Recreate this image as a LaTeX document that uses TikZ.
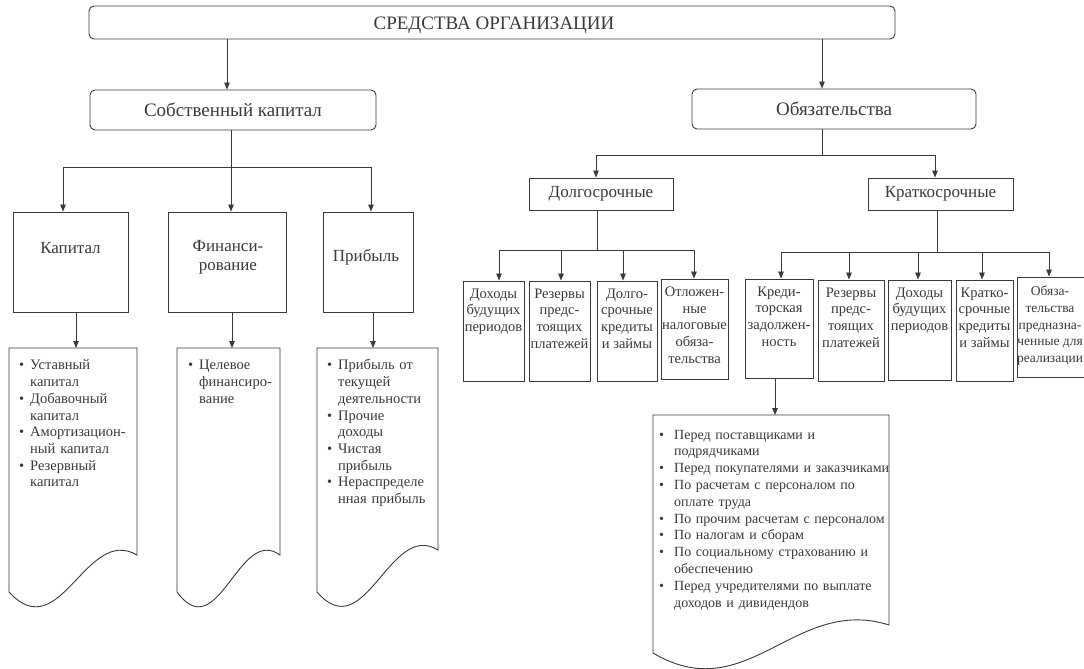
\documentclass[tikz,border=0pt]{standalone}
\usepackage{fontspec}
\setmainfont{Liberation Serif}
\usetikzlibrary{arrows.meta,calc}
\definecolor{ln}{HTML}{3A3A3A}
\newcommand{\fH}{\fontsize{19}{22}\selectfont}
\newcommand{\fM}{\fontsize{17}{19.5}\selectfont}
\newcommand{\fS}{\fontsize{14.5}{16.7}\selectfont}
\newcommand{\fB}{\fontsize{14}{16.8}\selectfont}
\newcommand{\fT}{\fontsize{13.5}{16.7}\selectfont}
\newcommand{\bul}[2]{\par\noindent\hangindent=#1\hangafter=1\makebox[#1][l]{\textbullet}#2}
\newcommand{\docshape}[5]{(#1,#3) -- (#2,#3) -- (#2,#5) .. controls ({#1+0.6*(#2-#1)},{#5-30}) and ({#1+0.4*(#2-#1)},{#4+56}) .. (#1,#4) -- cycle}
\begin{document}
\begin{tikzpicture}[x=1pt,y=-1pt,color=ln,
  box/.style={draw, line width=0.9pt, inner sep=0pt},
  rbox/.style={box, rounded corners=5pt},
  arr/.style={-{Triangle[length=7pt,width=5.5pt]}, line width=0.8pt},
  con/.style={line width=0.8pt},
  small/.style={font=\fS, align=center, inner sep=0pt, anchor=north},
  lst/.style={font=\fS, inner sep=0pt, anchor=north west}]
\fill[white] (0,0) rectangle (1084,669);
\useasboundingbox (0,0) rectangle (1084,669);

% level 0 and 1
\node[rbox, minimum width=806pt, minimum height=33pt] (top) at (492,22.5) {};
\node[font=\fH, inner sep=0pt] at (494,25) {СРЕДСТВА ОРГАНИЗАЦИИ};
\node[rbox, minimum width=286pt, minimum height=40pt, font=\fH] (sk) at (233,110) {Собственный капитал};
\node[rbox, minimum width=284pt, minimum height=40pt, font=\fH] (ob) at (834,109) {Обязательства};

% left level 2
\node[box, minimum width=115pt, minimum height=100pt] (kap) at (70.5,262) {};
\node[box, minimum width=118pt, minimum height=100pt] (fin) at (227,262) {};
\node[box, minimum width=90pt, minimum height=100pt] (pri) at (368,262) {};
\node[font=\fM, inner sep=0pt] at (70.5,248) {Капитал};
\node[font=\fM, inner sep=0pt, align=center] at (228,257) {Финанси-\\рование};
\node[font=\fM, inner sep=0pt] at (366,257) {Прибыль};

% right level 2
\node[box, minimum width=144pt, minimum height=32pt, font=\fM] (dol) at (601,194) {Долгосрочные};
\node[box, minimum width=145pt, minimum height=32pt, font=\fM] (kra) at (940.5,194) {Краткосрочные};

% right level 3
\node[box, minimum width=61pt, minimum height=100pt] (d1) at (493.5,331) {};
\node[box, minimum width=61pt, minimum height=100pt] (d2) at (559.5,331) {};
\node[box, minimum width=60pt, minimum height=100pt] (d3) at (627,331) {};
\node[box, minimum width=67pt, minimum height=100pt] (d4) at (694.5,329) {};
\node[box, minimum width=68pt, minimum height=99pt] (k1) at (779,328.5) {};
\node[box, minimum width=66pt, minimum height=101pt] (k2) at (851,330.5) {};
\node[box, minimum width=63pt, minimum height=100pt] (k3) at (919.5,330) {};
\node[box, minimum width=57pt, minimum height=101pt] (k4) at (984.5,330.5) {};
\node[box, minimum width=73pt, minimum height=100pt] (k5) at (1053.5,327) {};

\node[small] at ($(d1.north)+(0,8)$) {Доходы\\будущих\\периодов};
\node[small] at ($(d2.north)+(0,8)$) {Резервы\\предс-\\тоящих\\платежей};
\node[small] at ($(d3.north)+(0,8)$) {Долго-\\срочные\\кредиты\\и займы};
\node[small] at ($(d4.north)+(0,8)$) {Отложен-\\ные\\налоговые\\обяза-\\тельства};
\node[small] at ($(k1.north)+(0,8)$) {Креди-\\торская\\задолжен-\\ность};
\node[small] at ($(k2.north)+(0,8)$) {Резервы\\предс-\\тоящих\\платежей};
\node[small] at ($(k3.north)+(0,8)$) {Доходы\\будущих\\периодов};
\node[small] at ($(k4.north)+(0,8)$) {Кратко-\\срочные\\кредиты\\и займы};
\node[small, font=\fT] at (1050,286) {Обяза-\\тельства\\предназна-\\ченные для\\реализации};

% list shapes
\coordinate (kl) at (76,348);
\coordinate (fl) at (232,348);
\coordinate (pl) at (373,348);
\coordinate (bl) at (775,415);
\draw[box] \docshape{9}{137}{348}{592}{555};
\draw[box] \docshape{177}{280}{348}{592}{555};
\draw[box] \docshape{317}{438}{348}{592}{550};
\draw[box] \docshape{653}{889}{415}{653}{625};

\node[lst, text width=125pt] at (19,353) {\raggedright\bul{11pt}{Уставный\newline капитал}\bul{11pt}{Добавочный\newline капитал}\bul{11pt}{Амортизацион-\newline ный капитал}\bul{11pt}{Резервный\newline капитал}\par};
\node[lst, text width=110pt] at (188,353) {\raggedright\bul{11pt}{Целевое\newline финансиро-\newline вание}\par};
\node[lst, text width=125pt] at (327,353) {\raggedright\bul{11pt}{Прибыль от\newline текущей\newline деятельности}\bul{11pt}{Прочие\newline доходы}\bul{11pt}{Чистая\newline прибыль}\bul{11pt}{Нераспределе\newline нная прибыль}\par};
\node[lst, font=\fB, text width=245pt] at (659,422) {\raggedright\bul{15pt}{Перед поставщиками и\newline подрядчиками}\bul{15pt}{Перед покупателями и заказчиками}\bul{15pt}{По расчетам с персоналом по\newline оплате труда}\bul{15pt}{По прочим расчетам с персоналом}\bul{15pt}{По налогам и сборам}\bul{15pt}{По социальному страхованию и\newline обеспечению}\bul{15pt}{Перед учредителями по выплате\newline доходов и дивидендов}\par};

% branch coordinates
\coordinate (xa) at (227,0);
\coordinate (xb) at (822,0);
\coordinate (sj) at (231,167);
\coordinate (xk) at (63,0);
\coordinate (xp) at (371,0);
\coordinate (oj) at (822,155);
\coordinate (xd) at (596,0);
\coordinate (xr) at (935,0);
\coordinate (dj) at (597,250);
\coordinate (x1) at (499,0);
\coordinate (x2) at (561,0);
\coordinate (x3) at (623,0);
\coordinate (x4) at (694,0);
\coordinate (kj) at (937,252);
\coordinate (y1) at (781,0);
\coordinate (y2) at (849,0);
\coordinate (y3) at (918,0);
\coordinate (y4) at (982,0);
\coordinate (y5) at (1049,0);

% connectors
\draw[arr] (top.south -| xa) -- (sk.north -| xa);
\draw[arr] (top.south -| xb) -- (ob.north -| xb);
\draw[con] (sk.south -| sj) -- (sj);
\draw[arr] (sj) -| (kap.north -| xk);
\draw[arr] (sj) -- (fin.north -| sj);
\draw[arr] (sj) -| (pri.north -| xp);
\draw[arr] (kap.south -| kl) -- (kl);
\draw[arr] (fin.south -| fl) -- (fl);
\draw[arr] (pri.south -| pl) -- (pl);

\draw[con] (ob.south -| oj) -- (oj);
\draw[arr] (oj) -| (dol.north -| xd);
\draw[arr] (oj) -| (kra.north -| xr);

\draw[con] (dol.south -| dj) -- (dj);
\draw[arr] (dj) -| (d1.north -| x1);
\draw[arr] (dj) -| (d2.north -| x2);
\draw[arr] (dj) -| (d3.north -| x3);
\draw[arr] (dj) -| (d4.north -| x4);

\draw[con] (kra.south -| kj) -- (kj);
\draw[arr] (kj) -| (k1.north -| y1);
\draw[arr] (kj) -| (k2.north -| y2);
\draw[arr] (kj) -| (k3.north -| y3);
\draw[arr] (kj) -| (k4.north -| y4);
\draw[arr] (kj) -| (k5.north -| y5);
\draw[arr] (k1.south -| bl) -- (bl);
\end{tikzpicture}
\end{document}
